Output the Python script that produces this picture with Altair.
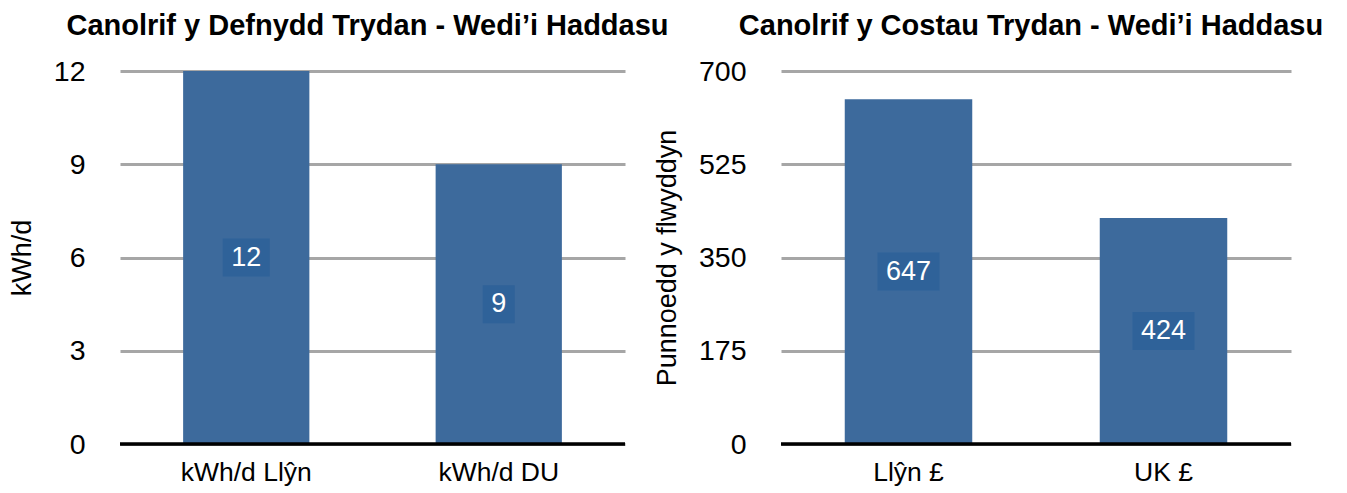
import altair as alt
import pandas as pd

left_categories = ["kWh/d Llŷn", "kWh/d DU"]
left_values = [12, 9]
left_ticks = [0, 3, 6, 9, 12]
left_title = "Canolrif y Defnydd Trydan - Wedi’i Haddasu"
left_ytitle = "kWh/d"

right_categories = ["Llŷn £", "UK £"]
right_values = [647, 424]
right_ticks = [0, 175, 350, 525, 700]
right_title = "Canolrif y Costau Trydan - Wedi’i Haddasu"
right_ytitle = "Punnoedd y flwyddyn"

FONT = "Liberation Sans"
BAR = "#3d6a9c"
BOX = "#2f6299"


def panel(cats, vals, ticks, title, ytitle, w):
    df = pd.DataFrame({"cat": cats, "val": vals})
    df["label"] = [str(v) for v in vals]
    xs = alt.Scale(paddingInner=0.5, paddingOuter=0.25)
    ys = alt.Scale(domain=[ticks[0], ticks[-1]], nice=False)
    x = alt.X("cat:N", sort=None, title=None, scale=xs,
              axis=alt.Axis(labelAngle=0, labelFontSize=26.5, labelFont=FONT,
                            labelColor="black", domain=False, ticks=False,
                            labelPadding=15, grid=False))
    y = alt.Y("val:Q", title=ytitle, scale=ys,
              axis=alt.Axis(values=ticks, grid=True, gridColor="#a6a6a6",
                            gridWidth=3, domain=False, ticks=False,
                            labelFontSize=28.5, labelPadding=35, labelFont=FONT,
                            labelColor="black", titleFontSize=27,
                            titleFontWeight="normal", titleFont=FONT,
                            titleColor="black", titlePadding=17))
    x2 = alt.X("cat:N", sort=None, title=None, scale=xs)
    ymid = alt.Y("mid:Q", title=ytitle, scale=ys)
    base = alt.Chart(df)
    bars = base.mark_bar(color=BAR).encode(x=x, y=y)
    zero = base.mark_rule(color="black", strokeWidth=3).encode(y=alt.datum(0))
    boxes = base.mark_tick(color=BOX, thickness=38, opacity=1).transform_calculate(
        mid="datum.val / 2", boxw="length(datum.label) * 15 + 17"
    ).encode(x=x2, y=ymid, size=alt.Size("boxw:Q", scale=None, legend=None))
    text = base.mark_text(color="white", fontSize=27, font=FONT, baseline="middle").transform_calculate(
        mid="datum.val / 2"
    ).encode(x=x2, y=ymid, text="label:N")
    return alt.layer(bars, zero, boxes, text).properties(
        width=w, height=373,
        title=alt.TitleParams(title, fontSize=29, font=FONT, fontWeight="bold",
                              offset=16, anchor="middle", frame="group",
                              color="black", dx=-5),
    )


left = panel(left_categories, left_values, left_ticks, left_title, left_ytitle, 505)
right = panel(right_categories, right_values, right_ticks, right_title, right_ytitle, 510)

chart = alt.hconcat(left, right, spacing=156, bounds="flush").properties(
    padding={"left": 0, "top": 4, "right": 0, "bottom": 0}
).configure_view(stroke=None)

chart.save("out.html", embed_options={"renderer": "svg", "actions": False})
